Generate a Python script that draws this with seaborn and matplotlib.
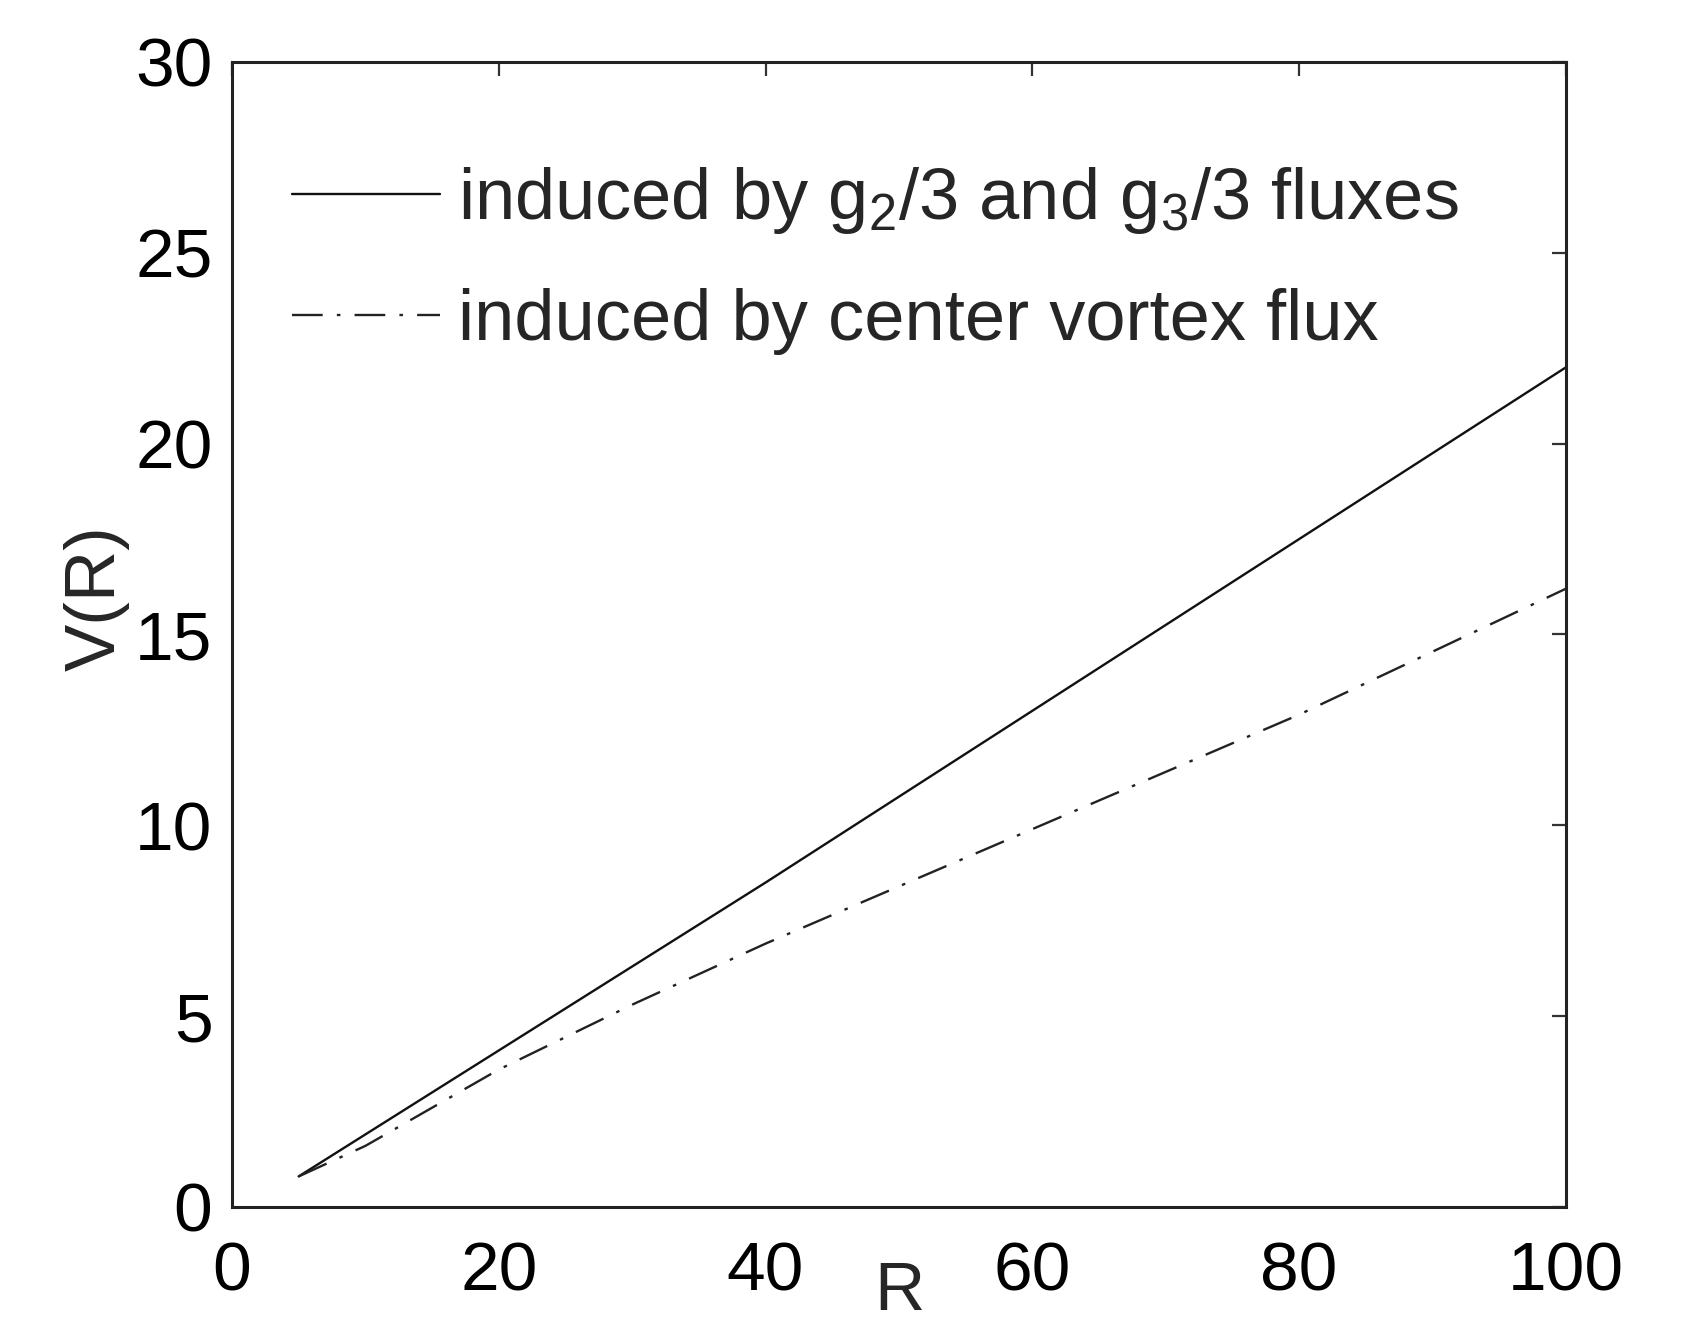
import numpy as np
import pandas as pd
import matplotlib
matplotlib.use("Agg")
import matplotlib.pyplot as plt
import seaborn as sns

# values
r_vals = [5, 10, 20, 30, 40, 50, 60, 70, 80, 90, 100]
v_g23 = [0.8, 1.9, 4.1, 6.3, 8.5, 10.75, 13.0, 15.25, 17.5, 19.75, 22.0]
v_center = [0.8, 1.6, 3.6, 5.3, 6.9, 8.4, 9.9, 11.4, 12.9, 14.55, 16.2]

label_g23 = r"induced by g$_2$/3 and g$_3$/3 fluxes"
label_center = "induced by center vortex flux"

x_ticks = [0, 20, 40, 60, 80, 100]
y_ticks = [0, 5, 10, 15, 20, 25, 30]

sns.set_style("white")
plt.rcParams['font.family'] = ['Liberation Sans', 'DejaVu Sans']
plt.rcParams['mathtext.fontset'] = 'custom'
plt.rcParams['mathtext.rm'] = 'Liberation Sans'
plt.rcParams['mathtext.it'] = 'Liberation Sans'

df = pd.DataFrame({'R': r_vals, 'g23': v_g23, 'center': v_center})

fig = plt.figure(figsize=(16.88, 13.3), dpi=100)
ax = fig.add_axes([0.1374, 0.0925, 0.7903, 0.8609])

sns.lineplot(data=df, x='R', y='g23', ax=ax, color='#111111', linewidth=1.7,
             label=label_g23)
sns.lineplot(data=df, x='R', y='center', ax=ax, color='#222222', linewidth=1.7,
             label=label_center)
ax.lines[1].set_dashes([13, 6, 1.5, 6])

ax.set_xlim(0, 100)
ax.set_ylim(0, 30)
ax.set_xticks(x_ticks)
ax.set_yticks(y_ticks)
ax.tick_params(direction='in', length=10, width=1.6, labelsize=50,
               top=True, right=True, colors='#333333', labelcolor='black')
ax.tick_params(axis='x', pad=24)
ax.tick_params(axis='y', pad=14)
for s in ax.spines.values():
    s.set_visible(True)
    s.set_color('#222222')
    s.set_linewidth(2.2)

ax.set_xlabel('R', fontsize=50, labelpad=-32)
ax.set_ylabel('V(R)', fontsize=51, labelpad=4)
ax.yaxis.label.set_y(0.532)

leg = ax.legend(loc='upper left', bbox_to_anchor=(0.045, 0.91), frameon=False,
                fontsize=52, handlelength=2.05, handletextpad=0.25,
                labelspacing=0.72, borderpad=0, borderaxespad=0)
for h in leg.get_lines():
    h.set_linewidth(1.7)

fig.savefig('out.png', dpi=100, facecolor='white')
